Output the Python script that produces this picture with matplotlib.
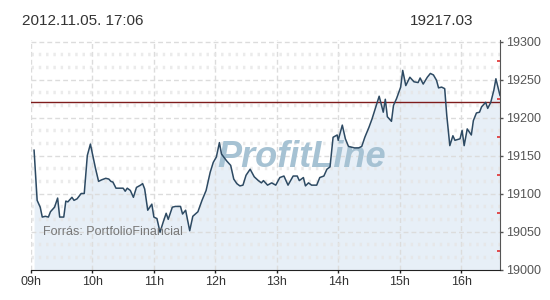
import matplotlib
matplotlib.use("Agg")
import matplotlib.pyplot as plt
from matplotlib.ticker import MultipleLocator, FixedLocator
import numpy as np

# minutes since 09:00 and index value
minutes = [3, 6, 9, 11, 14, 17, 19, 23, 26, 28, 32, 34, 36, 40, 42, 45, 49, 52,
           55, 58, 60, 63, 66, 69, 73, 76, 78, 80, 83, 87, 90, 92, 94, 97, 100,
           103, 107, 109, 111, 114, 116, 118, 120, 123, 126, 129, 132, 134, 138,
           141, 146, 148, 151, 155, 158, 163, 167, 171, 175, 178, 181, 184, 186,
           191, 195, 198, 201, 204, 207, 210, 214, 218, 222, 225, 227, 231, 235,
           239, 243, 247, 251, 256, 260, 262, 266, 268, 271, 274, 279, 282, 286,
           289, 292, 295, 299, 300, 304, 307, 310, 313, 316, 320, 323, 326, 330,
           333, 336, 340, 344, 346, 348, 352, 354, 357, 361, 363, 366, 370, 374,
           378, 380, 383, 387, 390, 393, 396, 398, 401, 404, 406, 409, 412, 414,
           419, 421, 423, 426, 430, 432, 435, 438, 440, 444, 446, 449, 452, 454,
           458]
values = [19157, 19091, 19082, 19069, 19070, 19069, 19076, 19082, 19094, 19069,
          19069, 19090, 19089, 19095, 19091, 19093, 19100, 19100, 19150, 19165,
          19152, 19133, 19116, 19118, 19120, 19119, 19116, 19115, 19107, 19107,
          19107, 19103, 19107, 19104, 19095, 19108, 19111, 19113, 19106, 19078,
          19082, 19086, 19069, 19067, 19049, 19062, 19074, 19066, 19082, 19083,
          19083, 19073, 19078, 19051, 19070, 19076, 19091, 19104, 19128, 19141,
          19148, 19167, 19152, 19143, 19137, 19119, 19113, 19110, 19111, 19124,
          19132, 19122, 19117, 19114, 19117, 19111, 19114, 19111, 19121, 19123,
          19111, 19123, 19123, 19117, 19121, 19110, 19114, 19111, 19111, 19121,
          19123, 19132, 19135, 19174, 19177, 19170, 19190, 19172, 19162, 19161,
          19160, 19160, 19162, 19174, 19187, 19198, 19211, 19228, 19207, 19224,
          19201, 19195, 19216, 19225, 19240, 19262, 19242, 19253, 19247, 19246,
          19252, 19244, 19253, 19258, 19256, 19249, 19239, 19240, 19238, 19203,
          19163, 19176, 19170, 19172, 19183, 19163, 19185, 19177, 19196, 19206,
          19207, 19214, 19220, 19212, 19220, 19236, 19251, 19229]

hour_ticks = [0, 60, 120, 180, 240, 300, 360, 420]
hour_labels = ["09h", "10h", "11h", "12h", "13h", "14h", "15h", "16h"]
prev_close = 19221
y_min, y_max = 19000, 19302
x_max = 458

header_left = "2012.11.05. 17:06"
header_right = "19217.03"
source_text = "Forrás: PortfolioFinancial"
watermark = "ProfitLine"

fig = plt.figure(figsize=(5.5, 3.0), dpi=100)
ax = fig.add_axes([31 / 550, 30.5 / 300, 469 / 550, 229.5 / 300])

# fill first, grid drawn over it so it shows through like the original
ax.fill_between(minutes, values, y_min, color="#e7eff7", zorder=0.5, lw=0)

# grid: vertical dashed at hours, horizontal dashed at 50s, faint dotted in between
for h in hour_ticks:
    ax.axvline(h, color="#dcdcdc", lw=1, dashes=(3.5, 2.2), zorder=1)
for v in np.arange(19050, 19301, 50):
    ax.axhline(v, color="#dcdcdc", lw=1, dashes=(3.5, 2.2), zorder=1)
for v in np.arange(y_min, y_max, 50):
    for k in (1, 2):
        ax.axhline(v + k * 50 / 3, color="#e6e6e6", lw=2.5, dashes=(0.7, 1.4),
                   alpha=0.8, zorder=1)

ax.text(264, 19148, watermark, fontsize=26, fontweight="heavy", style="italic",
        family="Liberation Sans", color="#a6c2d3", ha="center", va="center", zorder=3)
ax.plot(minutes, values, color="#2d4a63", lw=1.1, zorder=5)
ax.axhline(prev_close, color="#7e1c1c", lw=1, zorder=4)

ax.set_xlim(0, x_max)
ax.set_ylim(y_min, y_max)

for s in ("left", "top"):
    ax.spines[s].set_visible(False)
ax.spines["bottom"].set_color("#222222")
ax.spines["right"].set_color("#555555")

ax.xaxis.set_major_locator(FixedLocator(hour_ticks))
ax.set_xticklabels(hour_labels)
ax.tick_params(axis="x", direction="out", length=2.5, width=1, color="#222222",
               pad=2, labelsize=9, labelcolor="#333333",
               labelfontfamily="Liberation Sans")

ax.yaxis.tick_right()
ax.yaxis.set_major_locator(MultipleLocator(50))
ax.yaxis.set_minor_locator(MultipleLocator(25))
ax.tick_params(axis="y", which="major", direction="out", length=2.5, width=1,
               color="#555555", pad=2, labelsize=9, labelcolor="#555555",
               labelfontfamily="Liberation Sans")
ax.tick_params(axis="y", which="minor", direction="in", length=2.5, width=1.2,
               color="#e03030")

fig.text(22 / 550, 1 - 21 / 300, header_left, fontsize=11, family="Liberation Sans",
         color="#333333", ha="left", va="center")
fig.text(473 / 550, 1 - 21 / 300, header_right, fontsize=11, family="Liberation Sans",
         color="#333333", ha="right", va="center")
ax.text(12, 19049, source_text, fontsize=9, family="Liberation Sans",
        color="#777777", ha="left", va="center", zorder=6)

fig.savefig("out.png", dpi=100, facecolor="white")
